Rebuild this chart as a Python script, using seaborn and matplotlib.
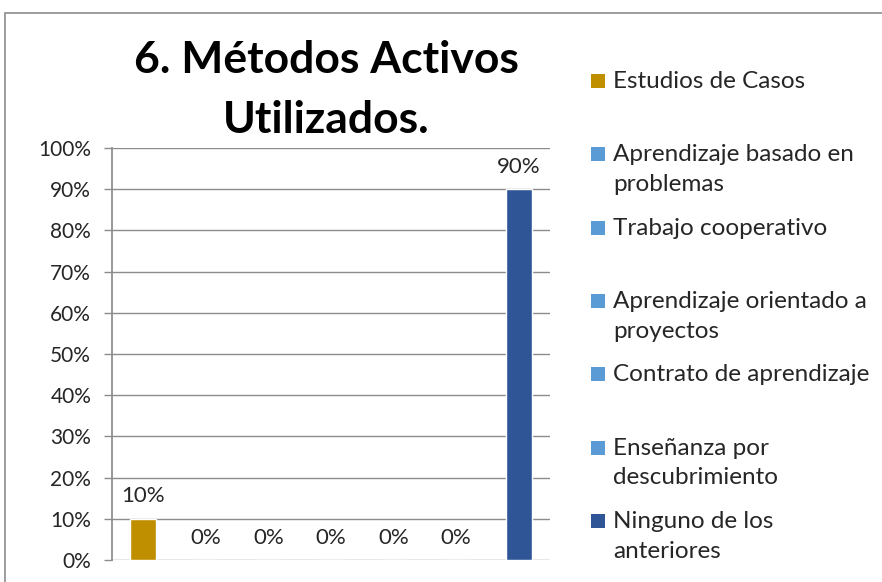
import matplotlib
matplotlib.use("Agg")
import matplotlib.pyplot as plt
import seaborn as sns
from matplotlib.patches import Rectangle
from matplotlib.legend_handler import HandlerPatch
from matplotlib.ticker import PercentFormatter

# data
categorias = ["Estudios de Casos", "Aprendizaje basado en problemas", "Trabajo cooperativo",
              "Aprendizaje orientado a proyectos", "Contrato de aprendizaje",
              "Enseñanza por descubrimiento", "Ninguno de los anteriores"]
etiquetas = ["Estudios de Casos", "Aprendizaje basado en\nproblemas", "Trabajo cooperativo",
             "Aprendizaje orientado a\nproyectos", "Contrato de aprendizaje",
             "Enseñanza por\ndescubrimiento", "Ninguno de los\nanteriores"]
valores = [0.10, 0.0, 0.0, 0.0, 0.0, 0.0, 0.90]
colores = ["#BF8F00", "#5B9BD5", "#5B9BD5", "#5B9BD5", "#5B9BD5", "#5B9BD5", "#2F5597"]
titulo = "6. Métodos Activos\nUtilizados."

sns.set_theme(style="white")
plt.rcParams['font.family'] = ['Lato', 'DejaVu Sans']

fig = plt.figure(figsize=(8.82, 5.82), dpi=100)
ax = fig.add_axes([112/882, 1-560/582, (550-112)/882, (560-148)/582])

sns.barplot(x=categorias, y=valores, hue=categorias, palette=colores, width=0.41,
            legend=False, ax=ax, saturation=1)

ax.set_ylim(0, 1)
ax.set_yticks([i/10 for i in range(11)])
ax.yaxis.set_major_formatter(PercentFormatter(1.0, decimals=0))
ax.set_xticks([])
ax.set_xlabel("")
ax.set_ylabel("")
ax.grid(axis="y", color="#8c8c8c", linewidth=1)
ax.set_axisbelow(True)
for s in ["top", "right", "bottom"]:
    ax.spines[s].set_visible(False)
ax.spines["left"].set_color("#8c8c8c")
ax.tick_params(axis="y", length=6, width=1, color="#8c8c8c", labelsize=15,
               labelcolor="#262626", left=True, pad=9)

for cont in ax.containers:
    ax.bar_label(cont, labels=[f"{v*100:.0f}%" for v in cont.datavalues],
                 padding=9, fontsize=16, color="#262626")

fig.text(326/882, 1-90/582, titulo, ha="center", va="center", fontsize=32,
         fontweight="bold", linespacing=1.6, color="black")


# legend square sits next to the first line of each label
def cuadro(legend, orig_handle, xdescent, ydescent, width, height, fontsize):
    lado = 10
    return Rectangle((-xdescent + width - lado, -ydescent + height - lado + 2), lado, lado)


fs_leg = 17.5
handles = [Rectangle((0, 0), 1, 1, facecolor=c, edgecolor="none") for c in colores]
labels2 = [e if "\n" in e else e + "\n " for e in etiquetas]
leg = fig.legend(handles, labels2, loc="upper left", bbox_to_anchor=(591/882, 1-71/582),
                 frameon=False, fontsize=fs_leg, handlelength=10/fs_leg, handleheight=2.2,
                 handletextpad=0.33, labelspacing=0.94, borderpad=0, borderaxespad=0,
                 handler_map={Rectangle: HandlerPatch(patch_func=cuadro)})
for t in leg.get_texts():
    t.set_color("#262626")
    t.set_linespacing(1.5)

# outer frame of the chart
fig.patches.append(Rectangle((5/882, -0.1), 1.2, 1.1 - 13/582, transform=fig.transFigure,
                             fill=False, edgecolor="#8c8c8c", linewidth=1.2))

fig.savefig("out.png", dpi=100)
